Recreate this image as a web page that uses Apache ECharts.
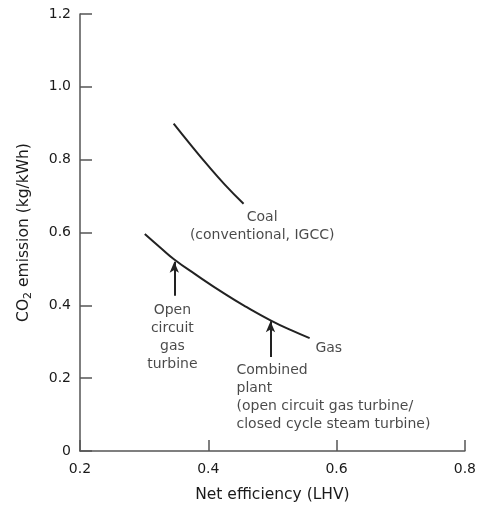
<!DOCTYPE html>
<html>
<head>
<meta charset="utf-8">
<script src="https://cdn.jsdelivr.net/npm/echarts@6/dist/echarts.min.js"></script>
<style>html,body{margin:0;padding:0;background:#fff}#c{width:479px;height:508px}</style>
</head>
<body>
<div id="c"></div>
<script>
var xTicks = [0.2, 0.4, 0.6, 0.8];
var yTicks = [0, 0.2, 0.4, 0.6, 0.8, 1.0, 1.2];
var coalX = [0.346, 0.372, 0.396, 0.425, 0.455];
var coalY = [0.899, 0.842, 0.791, 0.733, 0.679];
var gasX = [0.301, 0.325, 0.347, 0.380, 0.427, 0.460, 0.497, 0.530, 0.558];
var gasY = [0.596, 0.559, 0.526, 0.485, 0.430, 0.395, 0.359, 0.331, 0.310];
var arrowX = [0.347, 0.497];
var arrowFromY = [0.426, 0.258];
var arrowToY = [0.520, 0.356];
var labelTexts = ['Coal\n(conventional, IGCC)', 'Open\ncircuit\ngas\nturbine', 'Gas', 'Combined\nplant\n(open circuit gas turbine/\nclosed cycle steam turbine)'];
var labelX = [0.484, 0.344, 0.567, 0.444];
var labelY = [0.616, 0.312, 0.282, 0.146];
var labelAnchor = ['center', 'center', 'left', 'left'];

var FONT = '"DejaVu Sans", Verdana, sans-serif';
var TXT = '#1a1a1a';
var AX = '#555';

function pairs(xs, ys) { return xs.map(function (x, i) { return [x, ys[i]]; }); }

var arrows = arrowX.map(function (x, i) {
  return [{ coord: [x, arrowFromY[i]] }, { coord: [x, arrowToY[i]] }];
});

var labelSeries = labelTexts.map(function (t, i) {
  return {
    type: 'scatter',
    data: [[labelX[i], labelY[i]]],
    symbolSize: 0,
    silent: true,
    label: {
      show: true,
      formatter: t,
      position: labelAnchor[i] === 'left' ? 'right' : 'inside',
      distance: 0,
      align: labelAnchor[i] === 'left' ? 'left' : 'center',
      verticalAlign: 'middle',
      fontFamily: FONT,
      fontSize: 14,
      lineHeight: 18,
      color: TXT
    }
  };
});

var option = {
  animation: false,
  backgroundColor: '#fff',
  grid: { left: 80, right: 12, top: 14, bottom: 56, containLabel: false },
  xAxis: {
    type: 'value',
    min: xTicks[0], max: xTicks[xTicks.length - 1], interval: 0.2,
    name: 'Net efficiency (LHV)',
    nameLocation: 'middle', nameGap: 36,
    nameTextStyle: { fontFamily: FONT, fontSize: 15.5, color: TXT },
    axisLine: { show: true, lineStyle: { color: AX, width: 1.5 } },
    axisTick: { show: true, inside: true, length: 11, lineStyle: { color: AX, width: 1.5 } },
    axisLabel: { fontFamily: FONT, fontSize: 14, color: TXT, margin: 11,
      formatter: function (v) { return v.toFixed(1); } },
    splitLine: { show: false }
  },
  yAxis: {
    type: 'value',
    min: yTicks[0], max: yTicks[yTicks.length - 1], interval: 0.2,
    name: '{a|CO}{s|2}{a| emission (kg/kWh)}',
    nameLocation: 'middle', nameGap: 46,
    nameTextStyle: {
      rich: {
        a: { fontFamily: FONT, fontSize: 15.5, color: TXT },
        s: { fontFamily: FONT, fontSize: 11, color: TXT, padding: [9, 0, 0, 0] }
      }
    },
    axisLine: { show: true, lineStyle: { color: AX, width: 1.5 } },
    axisTick: { show: true, inside: true, length: 12, lineStyle: { color: AX, width: 1.5 } },
    axisLabel: { fontFamily: FONT, fontSize: 14, color: TXT, margin: 9,
      formatter: function (v) { return v === 0 ? '0' : v.toFixed(1); } },
    splitLine: { show: false }
  },
  series: [
    {
      type: 'line', data: pairs(coalX, coalY), smooth: 0.5, showSymbol: false,
      lineStyle: { color: '#222', width: 2 }, silent: true
    },
    {
      type: 'line', data: pairs(gasX, gasY), smooth: 0.5, showSymbol: false,
      lineStyle: { color: '#222', width: 2 }, silent: true,
      markLine: {
        silent: true, symbol: ['none', 'arrow'], symbolSize: [7, 11],
        label: { show: false },
        lineStyle: { color: '#222', width: 2, type: 'solid' },
        data: arrows
      }
    }
  ].concat(labelSeries)
};

var chart = echarts.init(document.getElementById('c'), null, { renderer: 'canvas' });
chart.setOption(option);
</script>
</body>
</html>
